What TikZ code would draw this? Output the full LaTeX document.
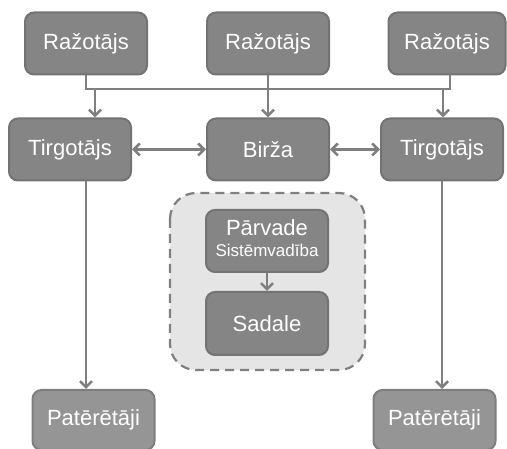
\documentclass[tikz,border=0pt]{standalone}
\usepackage{fontspec}
\setmainfont{Liberation Sans}
\usetikzlibrary{arrows.meta}
\definecolor{boxfill}{HTML}{858585}
\definecolor{boxline}{HTML}{737373}
\definecolor{lowfill}{HTML}{959595}
\definecolor{lowline}{HTML}{7E7E7E}
\definecolor{wire}{HTML}{7F7F7F}
\definecolor{groupfill}{HTML}{E5E5E5}
\tikzset{
  unit/.style={draw=boxline, fill=boxfill, line width=2pt, rounded corners=9pt,
    minimum width=122pt, minimum height=62pt, inner sep=0pt, text=white,
    font=\fontsize{22}{24}\selectfont},
  endunit/.style={unit, draw=lowline, fill=lowfill},
  group/.style={draw=wire, fill=groupfill, line width=2.2pt, dash pattern=on 9pt off 6pt,
    rounded corners=26pt},
  flow/.style={draw=wire, line width=2.6pt, -{Straight Barb[length=6pt,width=12pt,line width=2.6pt]}},
  both/.style={flow, {Straight Barb[length=6pt,width=12pt,line width=2.6pt]}-{Straight Barb[length=6pt,width=12pt,line width=2.6pt]}},
  plain/.style={draw=wire, line width=2.6pt}
}
\begin{document}
\begin{tikzpicture}[x=1pt, y=-1pt]
\useasboundingbox (0,0) rectangle (507,449);

% dashed group behind the inner boxes
\draw[group] (170,193) rectangle (365,370);

% producers
\node[unit] (r1) at (86,43.5) {Ražotājs};
\node[unit] (r2) at (268,43.5) {Ražotājs};
\node[unit, minimum width=117pt] (r3) at (447,43.5) {Ražotājs};

% traders and exchange
\node[unit] (t1) at (70,149.5) {Tirgotājs};
\node[unit] (bx) at (268,149.5) {Birža};
\node[unit] (t2) at (442,149.5) {Tirgotājs};

% transmission and distribution
\node[unit] (pv) at (267,241) {\begin{tabular}{@{}c@{}}Pārvade\\[-3pt]{\fontsize{17}{18}\selectfont Sistēmvadība}\end{tabular}};
\node[unit, minimum height=63pt] (sd) at (267,323.5) {Sadale};

% consumers
\node[endunit, minimum height=60pt] (c1) at (93.5,420) {Patērētāji};
\node[endunit, minimum height=60pt] (c2) at (434.5,420) {Patērētāji};

% common bus between producers
\coordinate (busl) at (86,89);
\coordinate (busr) at (450,89);
\draw[plain] (r1.south) -- (busl) -- (busr) -- (450,74);
\draw[flow] (95,89) -- (t1.north -| 95,0);
\draw[flow] (443,89) -- (t2.north -| 443,0);
\draw[flow] (r2.south) -- (bx.north);

% trading links
\draw[both] (t1.east) -- (bx.west);
\draw[both] (bx.east) -- (t2.west);

% deliveries to consumers
\draw[flow] (t1.south -| 86,0) -- (c1.north -| 86,0);
\draw[flow] (t2.south -| 442,0) -- (c2.north -| 442,0);

% inside the group
\draw[flow] (pv.south) -- (sd.north);
\end{tikzpicture}
\end{document}
